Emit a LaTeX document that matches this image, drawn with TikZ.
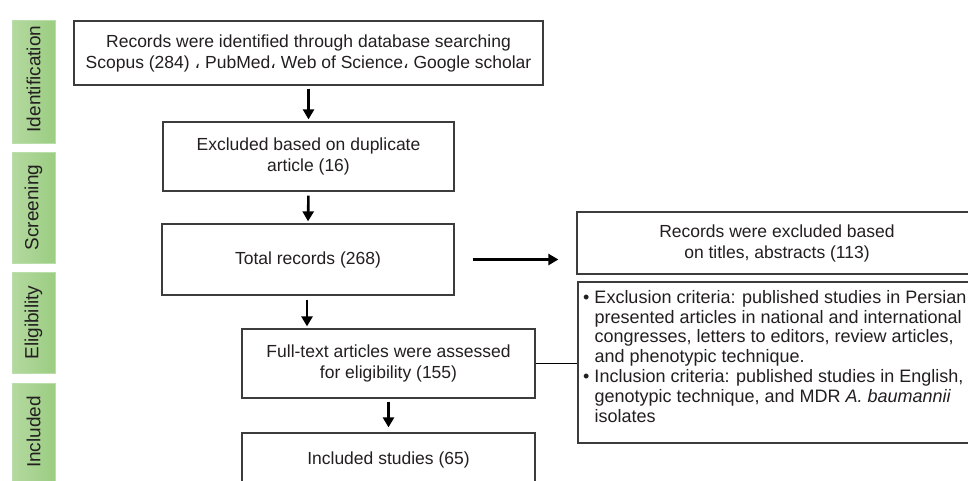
\documentclass[tikz,border=0pt]{standalone}
\usepackage{fontspec}
\setmainfont{Liberation Sans}
\newfontfamily\arabicfont[Script=Arabic]{DejaVu Sans}
\TeXXeTstate=1
\newcommand{\acomma}{{\arabicfont\beginR ،\endR}}
\usetikzlibrary{arrows.meta}
\definecolor{txt}{HTML}{231F20}
\definecolor{bord}{HTML}{3C3C3C}
\definecolor{gL}{RGB}{180,217,160}
\definecolor{gM}{RGB}{230,242,224}
\definecolor{gR}{RGB}{155,205,130}
\definecolor{gB}{RGB}{185,222,170}
\tikzset{
  box/.style={draw=bord, line width=1.3pt, fill=white, inner sep=0pt, align=center,
    text=txt, font=\fontsize{17.5}{21}\selectfont},
  arr/.style={draw=black, line width=2.6pt, -{Triangle[length=10pt,width=11pt]}},
  link/.style={draw=black, line width=1.8pt},
  side/.style={draw=gB, line width=1pt, left color=gL, middle color=gM, right color=gR},
  sidetxt/.style={rotate=90, text=txt, font=\fontsize{19}{22}\selectfont},
}
\begin{document}
\begin{tikzpicture}[x=1pt,y=-1pt]
\useasboundingbox (0,0) rectangle (968,480);
\clip (0,0) rectangle (968,480);
% side labels
\path[side] (12,20) rectangle (55,143);
\node[sidetxt] (sid) at (33.5,79) {Identification};
\path[side] (12,152) rectangle (55,263);
\node[sidetxt] (sscr) at (33.5,207.5) {Screening};
\path[side] (12,272) rectangle (55,373);
\node[sidetxt] (selig) at (33.5,322.5) {Eligibility};
\path[side] (12,383) rectangle (55,490);
\node[sidetxt] (sinc) at (33.5,432) {Included};
% boxes
\node[box, minimum width=469pt, minimum height=64pt] (b1) at (308.5,53)
  {Records were identified through database searching\\Scopus (284) \acomma{} PubMed\acomma{} Web of Science\acomma{} Google scholar};
\node[box, minimum width=291pt, minimum height=69pt] (b2) at (308.5,156.5)
  {Excluded based on duplicate\\article (16)};
\node[box, minimum width=292pt, minimum height=71pt] (b3) at (308,259.5)
  {Total records (268)};
\node[box, minimum width=400pt, minimum height=62pt] (b4) at (777,243)
  {Records were excluded based\\on titles, abstracts (113)};
\node[box, minimum width=400pt, minimum height=161pt] (b5) at (778,362.5) {};
\node[box, minimum width=293pt, minimum height=69pt] (b6) at (388.5,363.5)
  {Full-text articles were assessed\\for eligibility (155)};
\node[box, minimum width=293pt, minimum height=70pt] (b7) at (388.5,468)
  {\raisebox{0pt}[0pt][0pt]{\raisebox{4pt}{Included studies (65)}}};
% criteria text
\node[anchor=north west, inner sep=0pt, align=left, text=txt,
  font=\fontsize{18}{19.8}\selectfont] (crit) at (583,290)
  {• Exclusion criteria: published studies in Persian\\
   \hphantom{• }presented articles in national and international\\
   \hphantom{• }congresses, letters to editors, review articles,\\
   \hphantom{• }and phenotypic technique.\\
   • Inclusion criteria: published studies in English,\\
   \hphantom{• }genotypic technique, and MDR \textit{A. baumannii}\\
   \hphantom{• }isolates};
% connectors
\draw[arr, shorten <=3pt, shorten >=2pt] (b1.south) -- (b2.north);
\draw[arr, shorten <=4pt, shorten >=2pt] (b2.south) -- (b3.north);
\draw[arr, shorten <=4pt, shorten >=2pt] (b3.south -| 307,0) -- (b6.north -| 307,0);
\draw[arr, shorten <=3pt, shorten >=5pt] (b6.south) -- (b7.north);
\draw[arr, shorten <=18pt, shorten >=18pt] (b3.east) -- (b3.east -| b4.west);
\draw[link] (b6.east) -- (b6.east -| b5.west);
\end{tikzpicture}
\end{document}
